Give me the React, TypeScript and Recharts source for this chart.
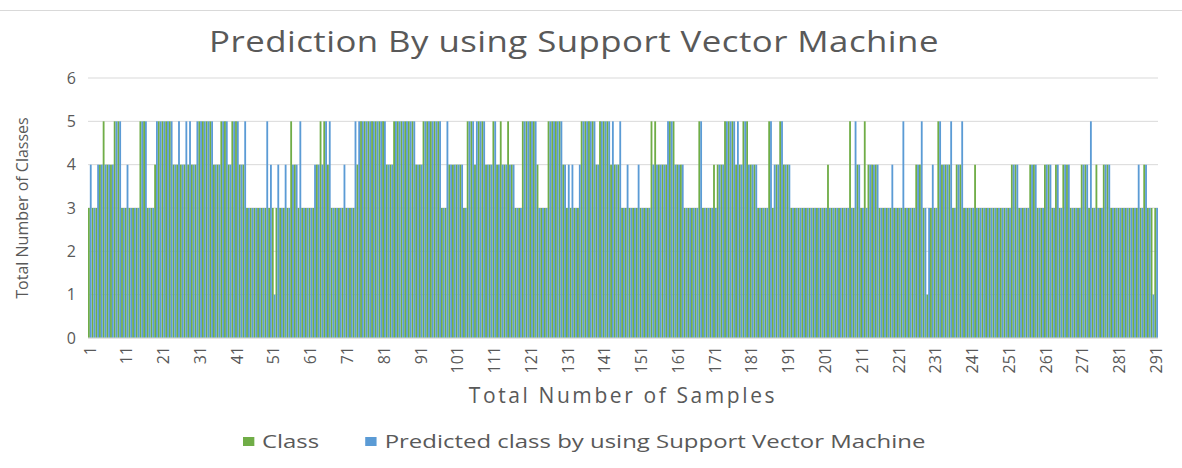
import React from "react";
import {
  BarChart,
  Bar,
  XAxis,
  YAxis,
  CartesianGrid,
  Label,
} from "recharts";

// actual class per sample (1..291)
const classValues = [
  3, 3, 3, 4, 5, 4, 4, 5, 5, 3,
  3, 3, 3, 3, 5, 5, 3, 3, 4, 5,
  5, 5, 5, 4, 4, 4, 4, 4, 4, 4,
  5, 5, 5, 5, 4, 4, 5, 5, 4, 5,
  5, 4, 4, 3, 3, 3, 3, 3, 3, 3,
  3, 3, 3, 3, 3, 5, 4, 3, 3, 3,
  3, 3, 4, 5, 5, 4, 3, 3, 3, 3,
  3, 3, 3, 4, 5, 5, 5, 5, 5, 5,
  5, 4, 4, 5, 5, 5, 5, 5, 5, 4,
  4, 5, 5, 5, 5, 5, 3, 3, 4, 4,
  4, 4, 3, 5, 5, 4, 5, 5, 4, 4,
  5, 4, 5, 4, 5, 4, 3, 3, 5, 5,
  5, 5, 4, 3, 3, 5, 5, 5, 5, 4,
  3, 3, 3, 3, 5, 5, 5, 5, 4, 5,
  5, 5, 4, 4, 4, 3, 3, 3, 3, 3,
  3, 3, 3, 5, 5, 4, 4, 4, 5, 5,
  4, 4, 3, 3, 3, 3, 5, 3, 3, 3,
  4, 4, 4, 5, 5, 5, 4, 4, 5, 5,
  4, 4, 3, 3, 3, 5, 3, 4, 5, 4,
  4, 3, 3, 3, 3, 3, 3, 3, 3, 3,
  3, 4, 3, 3, 3, 3, 3, 5, 3, 4,
  3, 5, 4, 4, 4, 3, 3, 3, 3, 3,
  3, 3, 3, 3, 3, 4, 4, 3, 1, 3,
  3, 5, 4, 4, 4, 3, 4, 4, 3, 3,
  3, 4, 3, 3, 3, 3, 3, 3, 3, 3,
  3, 4, 4, 3, 3, 3, 4, 4, 3, 3,
  4, 4, 3, 4, 3, 4, 4, 3, 3, 3,
  4, 4, 3, 3, 4, 3, 4, 4, 3, 3,
  3, 3, 3, 3, 3, 3, 3, 4, 3, 3,
  3,
];

// SVM prediction per sample
const predictedValues = [
  4, 3, 4, 4, 4, 4, 4, 5, 5, 3,
  4, 3, 3, 3, 5, 5, 3, 3, 5, 5,
  5, 5, 5, 4, 5, 4, 5, 5, 4, 5,
  5, 5, 5, 5, 4, 4, 5, 5, 4, 5,
  5, 4, 5, 3, 3, 3, 3, 3, 5, 4,
  1, 4, 3, 4, 3, 4, 4, 5, 3, 3,
  3, 4, 4, 4, 5, 5, 3, 3, 3, 4,
  3, 3, 5, 5, 5, 5, 5, 5, 5, 5,
  5, 4, 4, 5, 5, 5, 5, 5, 5, 4,
  4, 5, 5, 5, 5, 5, 3, 5, 4, 4,
  4, 4, 3, 5, 5, 5, 5, 5, 4, 4,
  5, 4, 4, 4, 4, 4, 3, 3, 5, 5,
  5, 5, 3, 3, 3, 5, 5, 5, 5, 4,
  4, 4, 3, 4, 5, 5, 5, 5, 4, 5,
  5, 5, 5, 4, 5, 3, 4, 3, 3, 4,
  3, 3, 3, 4, 4, 4, 4, 5, 5, 4,
  4, 4, 3, 3, 3, 3, 5, 3, 3, 3,
  3, 4, 4, 5, 5, 5, 5, 4, 5, 4,
  4, 4, 3, 3, 3, 5, 4, 4, 5, 4,
  4, 3, 3, 3, 3, 3, 3, 3, 3, 3,
  3, 3, 3, 3, 3, 3, 3, 3, 5, 4,
  3, 3, 4, 4, 4, 3, 3, 3, 4, 3,
  3, 5, 3, 3, 3, 4, 5, 3, 3, 4,
  3, 5, 4, 4, 5, 3, 4, 5, 3, 3,
  3, 3, 3, 3, 3, 3, 3, 3, 3, 3,
  3, 4, 4, 3, 3, 3, 4, 4, 3, 3,
  4, 4, 3, 4, 3, 4, 4, 3, 3, 3,
  4, 4, 5, 3, 3, 3, 4, 4, 3, 3,
  3, 3, 3, 3, 3, 4, 3, 4, 3, 1,
  3,
];

const sampleNumbers = classValues.map((_, i) => i + 1);
const yTicks = [0, 1, 2, 3, 4, 5, 6];

const GREEN = "#70ad47";
const BLUE = "#5b9bd5";
const TEXT = "#595959";
const FONT = '"Open Sans", sans-serif';

const rows = sampleNumbers.map((n, i) => ({
  sample: n,
  cls: classValues[i],
  predicted: predictedValues[i],
}));

const SampleTick = (props: any) => {
  const { x, y, payload } = props;
  return (
    <text
      x={x}
      y={y}
      transform={`rotate(-90, ${x}, ${y})`}
      textAnchor="end"
      dy="0.36em"
      fill={TEXT}
      fontSize={16}
      fontFamily={FONT}
    >
      {payload.value}
    </text>
  );
};

const LegendItem = ({ color, label, gap }: { color: string; label: string; gap: number }) => (
  <span style={{ display: "inline-flex", alignItems: "center", marginRight: gap }}>
    <span
      style={{ width: 9, height: 9, background: color, display: "inline-block", marginRight: 6 }}
    />
    <span>{label}</span>
  </span>
);

export default function App() {
  return (
    <div
      style={{
        position: "absolute",
        left: 0,
        top: 0,
        width: 1182,
        height: 468,
        background: "#fff",
        fontFamily: FONT,
        overflow: "hidden",
      }}
    >
      <div style={{ position: "absolute", top: 10, left: 0, width: 1182, height: 1, background: "#d9d9d9" }} />
      <div
        style={{
          position: "absolute",
          top: 21,
          left: 0,
          width: 1148,
          textAlign: "center",
          fontSize: 30,
          letterSpacing: 0.4,
          color: TEXT,
          lineHeight: "40px",
          transform: "scaleX(1.16)",
          transformOrigin: "574px 0",
        }}
      >
        Prediction By using Support Vector Machine
      </div>

      <BarChart
        width={1182}
        height={468}
        data={rows}
        margin={{ top: 78, right: 24, bottom: 60, left: 10 }}
        barGap={0}
      >
        <CartesianGrid vertical={false} stroke="#d9d9d9" />
        <XAxis
          dataKey="sample"
          interval={9}
          tickLine={false}
          axisLine={{ stroke: "#d9d9d9" }}
          height={70}
          tick={<SampleTick />}
        >
          <Label
            value="Total Number of Samples"
            position="insideBottom"
            offset={5}
            fill={TEXT}
            fontSize={21}
            fontFamily={FONT}
            style={{ letterSpacing: 2.6 }}
          />
        </XAxis>
        <YAxis
          domain={[0, 6]}
          ticks={yTicks}
          width={78}
          tickLine={false}
          axisLine={false}
          tickMargin={6}
          tick={{ fill: TEXT, fontSize: 16, fontFamily: FONT }}
        >
          <Label
            value="Total Number of Classes"
            angle={-90}
            position="insideLeft"
            offset={12}
            fill={TEXT}
            fontSize={16}
            fontFamily={FONT}
            style={{ textAnchor: "middle" }}
          />
        </YAxis>
        <Bar dataKey="cls" name="Class" fill={GREEN} barSize={1.83} isAnimationActive={false} />
        <Bar
          dataKey="predicted"
          name="Predicted class by using Support Vector Machine"
          fill={BLUE}
          barSize={1.83}
          isAnimationActive={false}
        />
      </BarChart>

      <div
        style={{
          position: "absolute",
          top: 428,
          left: 243,
          fontSize: 19,
          color: TEXT,
          whiteSpace: "nowrap",
          display: "flex",
          transform: "scaleX(1.26)",
          transformOrigin: "0 0",
        }}
      >
        <LegendItem color={GREEN} label="Class" gap={37} />
        <LegendItem color={BLUE} label="Predicted class by using Support Vector Machine" gap={0} />
      </div>
    </div>
  );
}
